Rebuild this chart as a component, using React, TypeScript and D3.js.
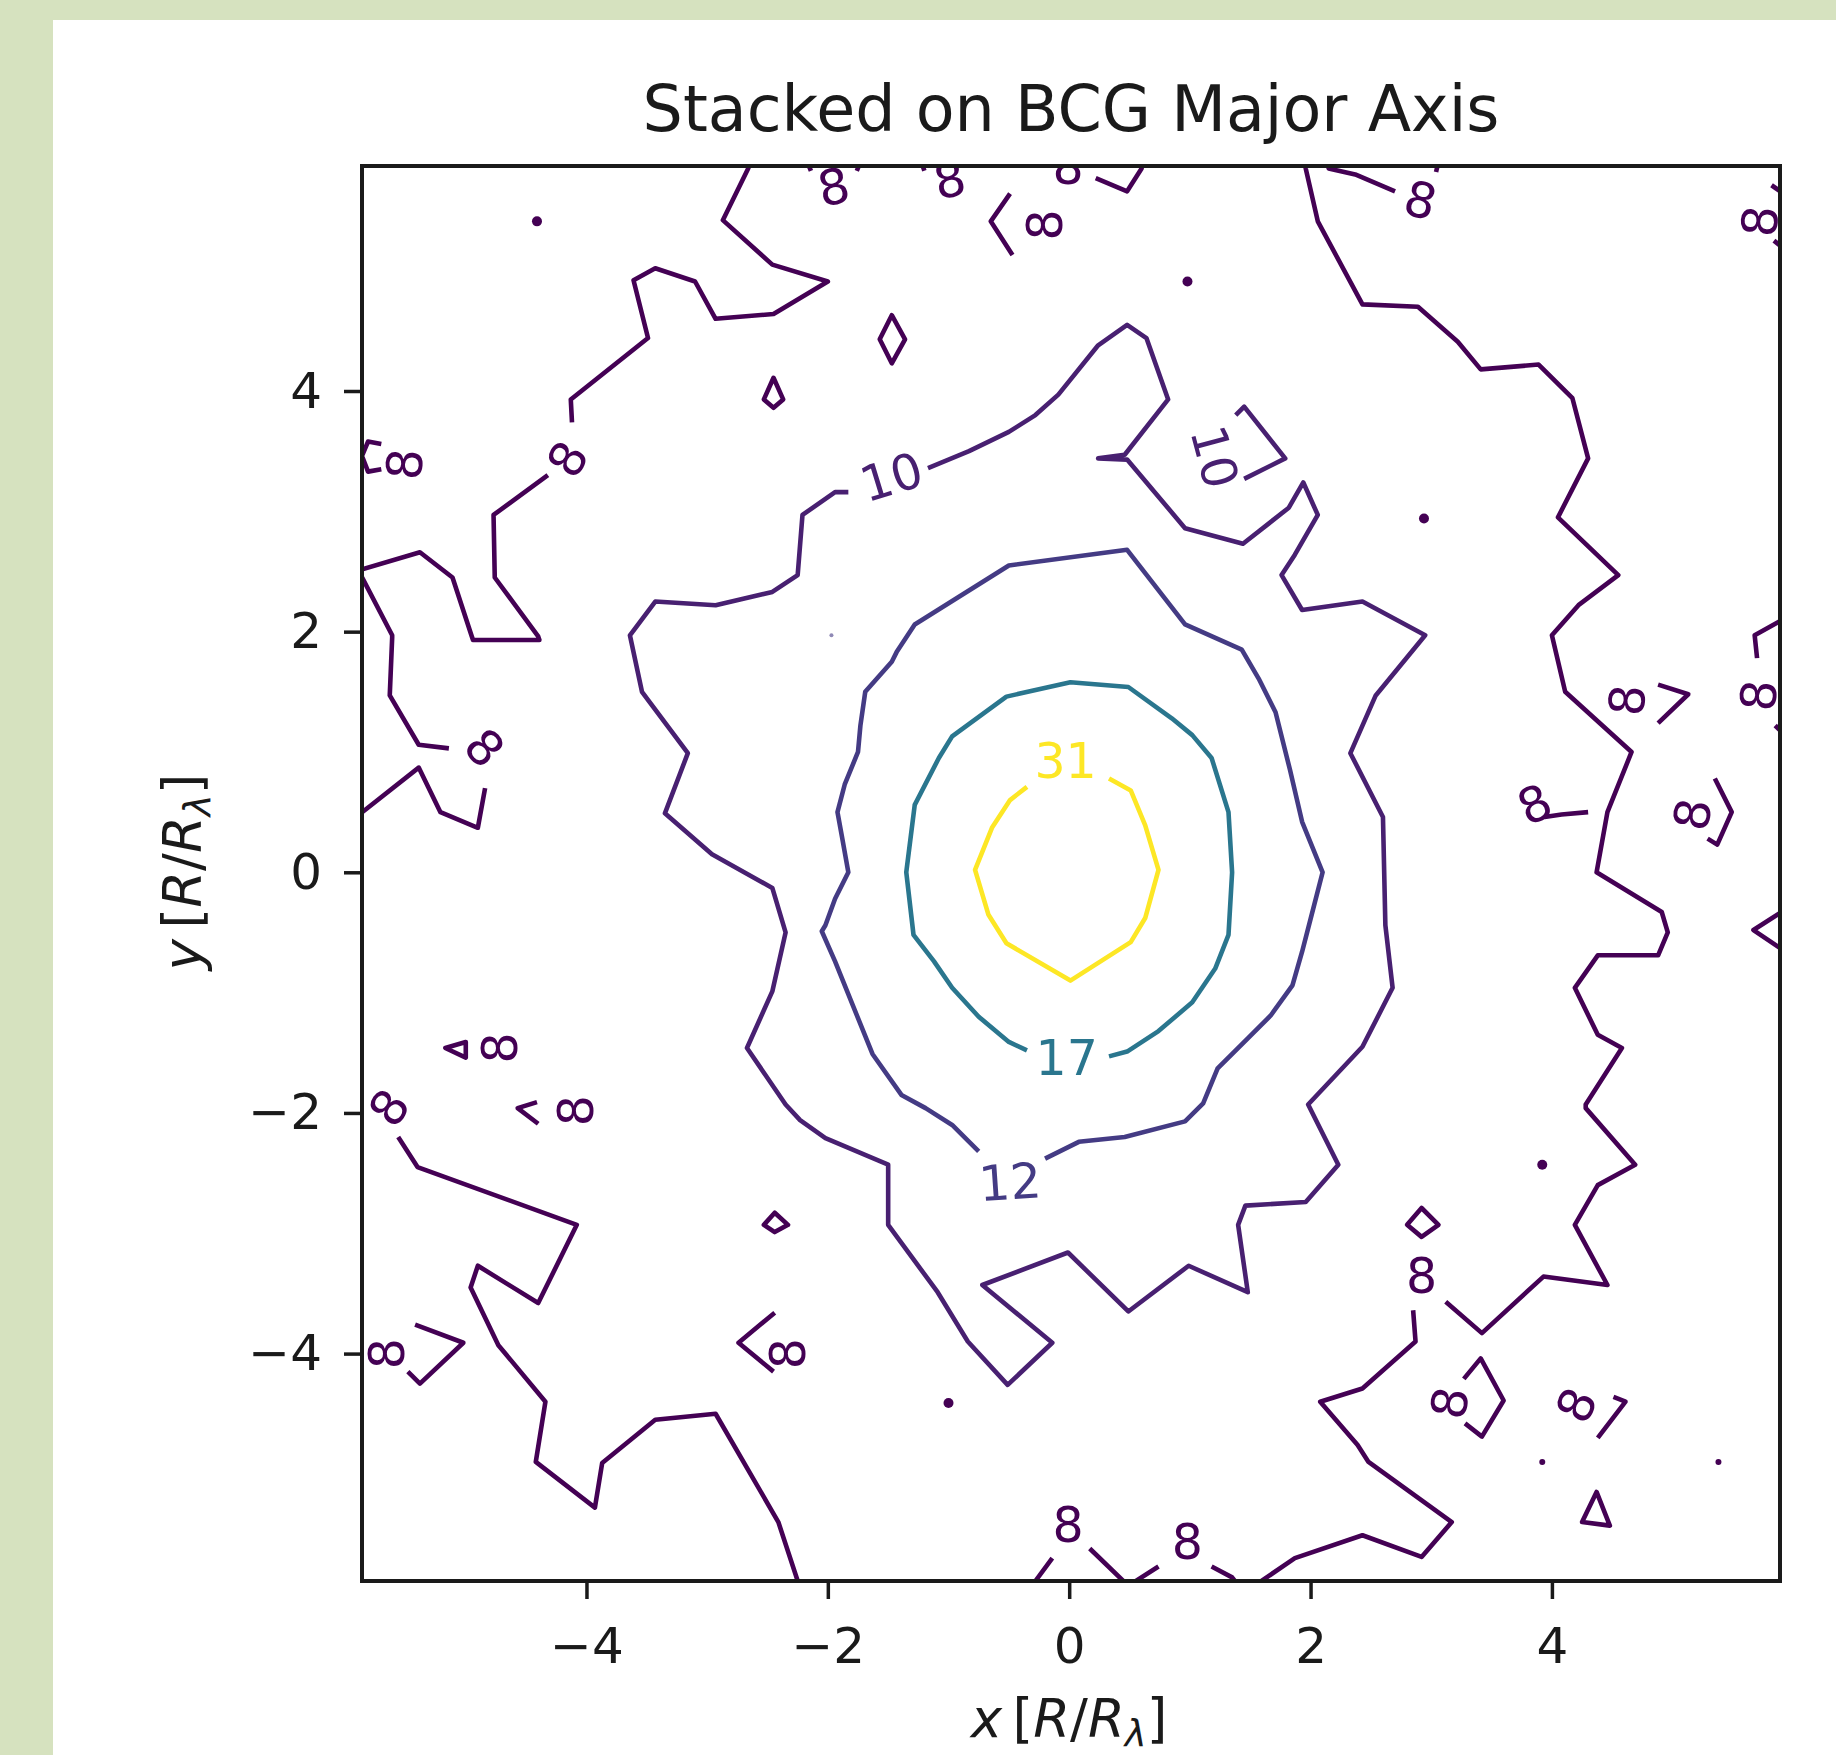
import React, { useEffect, useRef } from 'react';
import * as d3 from 'd3';

type Pt = [number, number];

const chartTitle = 'Stacked on BCG Major Axis';
const xTicks = [-4, -2, 0, 2, 4];
const yTicks = [-4, -2, 0, 2, 4];
const xDomain: Pt = [-5.86, 5.89];
const yDomain: Pt = [-5.89, 5.87];
const levels = [8, 10, 12, 17, 31];

// contour pieces, in data units (x, y in R/R_lambda)
const level31Lines: Pt[][] = [
  [[0.33, 0.78], [0.51, 0.68], [0.63, 0.39], [0.74, 0.02], [0.63, -0.38], [0.51, -0.58], [0.01, -0.9],
   [-0.52, -0.59], [-0.67, -0.35], [-0.78, 0.02], [-0.64, 0.37], [-0.49, 0.6], [-0.35, 0.71]],
];

const level17Lines: Pt[][] = [
  [[0.33, -1.53], [0.48, -1.49], [0.74, -1.32], [1.02, -1.08], [1.21, -0.8], [1.32, -0.52], [1.35, 0.0],
   [1.32, 0.5], [1.18, 0.95], [1.02, 1.14], [0.85, 1.28], [0.49, 1.54], [0.01, 1.58], [-0.52, 1.46],
   [-0.97, 1.13], [-1.08, 0.95], [-1.28, 0.56], [-1.35, 0.0], [-1.29, -0.52], [-1.12, -0.74],
   [-0.97, -0.96], [-0.75, -1.2], [-0.5, -1.41], [-0.35, -1.48]],
];

const level12Lines: Pt[][] = [
  [[-0.2, -2.38], [0.08, -2.24], [0.46, -2.2], [0.96, -2.07], [1.11, -1.92], [1.23, -1.63], [1.48, -1.38],
   [1.67, -1.19], [1.85, -0.94], [1.93, -0.66], [2.01, -0.35], [2.1, 0.0], [1.93, 0.42], [1.83, 0.85],
   [1.71, 1.33], [1.57, 1.61], [1.43, 1.85], [0.96, 2.06], [0.48, 2.68], [-0.5, 2.55], [-1.28, 2.06],
   [-1.43, 1.83], [-1.47, 1.75], [-1.69, 1.5], [-1.73, 1.22], [-1.75, 1.0], [-1.86, 0.73], [-1.92, 0.5],
   [-1.88, 0.28], [-1.83, 0.0], [-1.94, -0.22], [-2.02, -0.44], [-2.05, -0.49], [-1.94, -0.74],
   [-1.63, -1.51], [-1.39, -1.85], [-1.19, -1.96], [-0.97, -2.1], [-0.75, -2.32]],
];
const level12Dots: Pt[] = [[-1.97, 1.97]];

const level10Lines: Pt[][] = [
  [[-1.17, 3.36], [-0.83, 3.5], [-0.5, 3.66], [-0.28, 3.8], [-0.09, 3.97], [0.24, 4.38], [0.48, 4.55],
   [0.64, 4.44], [0.82, 3.93], [0.46, 3.47], [0.24, 3.44], [0.48, 3.43], [0.96, 2.86], [1.44, 2.73],
   [1.82, 3.03], [1.94, 3.24], [2.06, 2.97], [1.87, 2.64], [1.76, 2.47], [1.93, 2.18], [2.43, 2.25],
   [2.95, 1.97], [2.54, 1.47], [2.33, 0.99], [2.6, 0.46], [2.62, -0.44], [2.68, -0.96], [2.43, -1.45],
   [1.98, -1.93], [2.23, -2.43], [1.96, -2.74], [1.46, -2.77], [1.4, -2.93], [1.48, -3.49], [0.99, -3.27],
   [0.49, -3.65], [-0.01, -3.16], [-0.72, -3.43], [-0.14, -3.91], [-0.51, -4.26], [-0.84, -3.9],
   [-1.09, -3.49], [-1.5, -2.93], [-1.5, -2.43], [-2.02, -2.21], [-2.23, -2.06], [-2.35, -1.93],
   [-2.67, -1.46], [-2.46, -0.99], [-2.35, -0.5], [-2.46, -0.13], [-2.96, 0.15], [-3.35, 0.49],
   [-3.16, 0.99], [-3.54, 1.5], [-3.64, 1.97], [-3.43, 2.25], [-2.93, 2.22], [-2.46, 2.33], [-2.25, 2.47],
   [-2.21, 2.97], [-1.94, 3.16], [-1.83, 3.16]],
  [[1.38, 3.8], [1.45, 3.87], [1.79, 3.44], [1.45, 3.27]],
];

const level8Lines: Pt[][] = [
  [[-5.95, 2.49], [-5.38, 2.66], [-5.11, 2.45], [-4.95, 1.96], [-4.94, 1.93], [-4.39, 1.93], [-4.4, 1.96],
   [-4.76, 2.45], [-4.77, 2.97], [-4.32, 3.3]],
  [[-4.12, 3.74], [-4.13, 3.93], [-3.49, 4.44], [-3.61, 4.92], [-3.43, 5.02], [-3.1, 4.91], [-2.93, 4.6],
   [-2.45, 4.64], [-2.0, 4.91], [-2.46, 5.05], [-2.87, 5.42], [-2.66, 5.85], [-2.62, 5.95]],
  [[-5.9, 2.53], [-5.61, 1.97], [-5.61, 1.95], [-5.63, 1.47], [-5.39, 1.06], [-5.14, 1.03]],
  [[-4.84, 0.7], [-4.9, 0.37], [-5.21, 0.5], [-5.39, 0.87], [-5.92, 0.45]],
  [[-5.7, 3.56], [-5.81, 3.58], [-5.86, 3.46], [-5.81, 3.33], [-5.7, 3.35]],
  [[-5.56, -2.2], [-5.4, -2.45], [-4.08, -2.93], [-4.4, -3.58], [-4.9, -3.27], [-4.96, -3.45],
   [-4.73, -3.93], [-4.34, -4.4], [-4.42, -4.9], [-3.93, -5.28], [-3.87, -4.91], [-3.43, -4.55],
   [-2.93, -4.5], [-2.41, -5.4], [-2.22, -5.98]],
  [[1.94, 5.95], [1.96, 5.85], [2.06, 5.41], [2.43, 4.72], [2.89, 4.7], [3.22, 4.41], [3.41, 4.18],
   [3.89, 4.22], [4.17, 3.94], [4.3, 3.44], [4.05, 2.95], [4.55, 2.47], [4.22, 2.22], [4.0, 1.97],
   [4.11, 1.5], [4.66, 1.0], [4.46, 0.5], [4.37, 0.0], [4.91, -0.33], [4.96, -0.5], [4.88, -0.69],
   [4.38, -0.69], [4.19, -0.96], [4.38, -1.35], [4.58, -1.46], [4.28, -1.93], [4.28, -1.96],
   [4.69, -2.43], [4.38, -2.6], [4.19, -2.93], [4.46, -3.43], [3.93, -3.36], [3.42, -3.83], [3.12, -3.57]],
  [[2.85, -3.64], [2.87, -3.9], [2.43, -4.29], [2.08, -4.4], [2.39, -4.76], [2.48, -4.9], [3.17, -5.4],
   [2.92, -5.69], [2.43, -5.51], [1.87, -5.7], [1.49, -5.96]],
  [[2.13, 5.95], [2.15, 5.85], [2.37, 5.8], [2.7, 5.66]],
  [[3.04, 5.82], [3.07, 5.95]],
  [[0.22, 5.77], [0.48, 5.66], [0.6, 5.85], [0.62, 5.95]],
  [[-0.49, 5.64], [-0.65, 5.41], [-0.47, 5.13]],
  [[-2.19, 5.95], [-2.14, 5.83]],
  [[-1.76, 5.83], [-1.71, 5.95]],
  [[-1.24, 5.95], [-1.2, 5.83]],
  [[5.82, 5.71], [5.95, 5.62]],
  [[5.84, 5.25], [5.95, 5.16]],
  [[5.95, 2.12], [5.68, 1.97], [5.7, 1.78]],
  [[5.85, 1.22], [5.95, 1.12]],
  [[3.94, 0.46], [4.08, 0.48], [4.3, 0.5]],
  [[4.88, 1.56], [5.13, 1.48], [4.88, 1.24]],
  [[5.35, 0.78], [5.49, 0.5], [5.37, 0.23], [5.29, 0.28]],
  [[5.95, -0.3], [5.67, -0.48], [5.95, -0.67]],
  [[3.27, -4.21], [3.41, -4.04], [3.6, -4.39], [3.42, -4.69], [3.28, -4.58]],
  [[4.51, -4.36], [4.61, -4.4], [4.38, -4.7]],
  [[-0.3, -5.95], [-0.28, -5.89], [-0.14, -5.7]],
  [[0.17, -5.62], [0.49, -5.93], [0.74, -5.77]],
  [[1.18, -5.77], [1.35, -5.86], [1.42, -5.95]],
  [[-4.41, -1.91], [-4.57, -1.96], [-4.4, -2.09]],
  [[-5.42, -3.76], [-5.02, -3.91], [-5.38, -4.25], [-5.48, -4.15]],
  [[-2.44, -3.66], [-2.74, -3.91], [-2.45, -4.15]],
];

const level8Loops: Pt[][] = [
  [[-2.45, 4.11], [-2.37, 3.93], [-2.45, 3.86], [-2.53, 3.93]],
  [[-1.47, 4.63], [-1.36, 4.43], [-1.47, 4.23], [-1.57, 4.43]],
  [[-2.44, -2.83], [-2.33, -2.93], [-2.44, -2.99], [-2.53, -2.93]],
  [[2.92, -2.79], [3.06, -2.93], [2.92, -3.03], [2.8, -2.93]],
  [[4.37, -5.15], [4.48, -5.43], [4.25, -5.4]],
  [[-5.0, -1.41], [-5.17, -1.46], [-5.0, -1.54]],
];

const level8Dots: Pt[] = [[-4.41, 5.41], [0.98, 4.91], [2.94, 2.94], [3.92, -2.43], [-1.0, -4.41]];
const level8Specks: Pt[] = [[3.92, -4.9], [5.38, -4.9]];

// inline labels: level, x, y, angle (deg)
const contourLabels: [number, number, number, number][] = [
  [31, -0.03, 0.92, 0],
  [17, -0.02, -1.55, 0],
  [12, -0.49, -2.58, -4],
  [10, -1.47, 3.28, -17],
  [10, 1.2, 3.45, 75],
  [8, -5.5, 3.39, -85],
  [8, -4.15, 3.43, -60],
  [8, -4.85, 1.03, 47],
  [8, -1.95, 5.69, -12],
  [8, -0.99, 5.75, -12],
  [8, -0.01, 5.86, 0],
  [8, -0.2, 5.38, -90],
  [8, 2.91, 5.58, 15],
  [8, 5.73, 5.41, -85],
  [8, 4.63, 1.43, -85],
  [8, 5.72, 1.47, -85],
  [8, 3.86, 0.56, -25],
  [8, 5.17, 0.48, -80],
  [8, 2.92, -3.36, 0],
  [8, 3.16, -4.41, -80],
  [8, 4.21, -4.43, -65],
  [8, -0.01, -5.43, 0],
  [8, 0.98, -5.57, 0],
  [8, -5.63, -1.96, -55],
  [8, -4.08, -1.98, -90],
  [8, -5.65, -4.0, -90],
  [8, -2.33, -4.0, -90],
  [8, -4.71, -1.46, -90],
];

const FONT = 'DejaVu Sans';

export default function App() {
  const ref = useRef<SVGSVGElement | null>(null);

  useEffect(() => {
    if (!ref.current) return;
    const W = 1836;
    const H = 1755;
    const box = { left: 362, right: 1780, top: 166, bottom: 1581 };
    const svg = d3.select(ref.current);
    svg.selectAll('*').remove();

    const x = d3.scaleLinear().domain(xDomain).range([box.left, box.right]);
    const y = d3.scaleLinear().domain(yDomain).range([box.bottom, box.top]);
    const lo = levels[0];
    const hi = levels[levels.length - 1];
    const color = (lv: number) => d3.interpolateViridis((lv - lo) / (hi - lo));

    // page background with the green frame
    svg.append('rect').attr('width', W).attr('height', H).attr('fill', '#d6e2bf');
    svg.append('rect').attr('x', 53).attr('y', 20).attr('width', W - 53).attr('height', H - 20).attr('fill', '#fff');

    svg.append('defs').append('clipPath').attr('id', 'plotClip')
      .append('rect')
      .attr('x', box.left).attr('y', box.top)
      .attr('width', box.right - box.left).attr('height', box.bottom - box.top);

    const line = d3.line<Pt>().x(d => x(d[0])).y(d => y(d[1]));
    const loop = d3.line<Pt>().x(d => x(d[0])).y(d => y(d[1])).curve(d3.curveLinearClosed);

    const plot = svg.append('g').attr('clip-path', 'url(#plotClip)');

    const drawLines = (lv: number, pieces: Pt[][], gen: d3.Line<Pt>) => {
      plot.append('g').selectAll('path').data(pieces).join('path')
        .attr('d', d => gen(d))
        .attr('fill', 'none')
        .attr('stroke', color(lv))
        .attr('stroke-width', 4.6)
        .attr('stroke-linejoin', 'round');
    };
    drawLines(8, level8Lines, line);
    drawLines(8, level8Loops, loop);
    drawLines(10, level10Lines, line);
    drawLines(12, level12Lines, line);
    drawLines(17, level17Lines, line);
    drawLines(31, level31Lines, line);

    plot.append('g').selectAll('circle').data(level8Dots).join('circle')
      .attr('cx', d => x(d[0])).attr('cy', d => y(d[1])).attr('r', 5)
      .attr('fill', color(8));
    plot.append('g').selectAll('circle').data(level8Specks).join('circle')
      .attr('cx', d => x(d[0])).attr('cy', d => y(d[1])).attr('r', 3)
      .attr('fill', color(8));
    plot.append('g').selectAll('circle').data(level12Dots).join('circle')
      .attr('cx', d => x(d[0])).attr('cy', d => y(d[1])).attr('r', 2)
      .attr('fill', color(12)).attr('opacity', 0.6);

    plot.append('g').selectAll('text').data(contourLabels).join('text')
      .attr('transform', d => `translate(${x(d[1])},${y(d[2])}) rotate(${d[3]})`)
      .attr('text-anchor', 'middle')
      .attr('dominant-baseline', 'central')
      .attr('font-family', FONT)
      .attr('font-size', 49)
      .attr('fill', d => color(d[0]))
      .text(d => String(d[0]));

    // frame
    svg.append('rect')
      .attr('x', box.left).attr('y', box.top)
      .attr('width', box.right - box.left).attr('height', box.bottom - box.top)
      .attr('fill', 'none').attr('stroke', '#1a1a1a').attr('stroke-width', 4);

    const fmt = (d: d3.NumberValue) => {
      const v = Number(d);
      return v < 0 ? '\u2212' + Math.abs(v) : String(v);
    };

    const gx = svg.append('g').attr('transform', `translate(0,${box.bottom})`)
      .call(d3.axisBottom(x).tickValues(xTicks).tickSize(18).tickPadding(28).tickFormat(fmt));
    gx.select('.domain').remove();
    gx.selectAll('line').attr('stroke', '#1a1a1a').attr('stroke-width', 3.5);
    gx.selectAll('text').attr('font-size', 50).attr('font-family', FONT).attr('fill', '#1a1a1a');

    const gy = svg.append('g').attr('transform', `translate(${box.left},0)`)
      .call(d3.axisLeft(y).tickValues(yTicks).tickSize(18).tickPadding(22).tickFormat(fmt));
    gy.select('.domain').remove();
    gy.selectAll('line').attr('stroke', '#1a1a1a').attr('stroke-width', 3.5);
    gy.selectAll('text').attr('font-size', 50).attr('font-family', FONT).attr('fill', '#1a1a1a');

    svg.append('text')
      .attr('x', (box.left + box.right) / 2).attr('y', 131)
      .attr('text-anchor', 'middle')
      .attr('font-family', FONT).attr('font-size', 63.5).attr('fill', '#1a1a1a')
      .text(chartTitle);

    const axisLabel = (g: d3.Selection<SVGTextElement, unknown, null, undefined>, v: string) => {
      g.append('tspan').attr('font-style', 'italic').text(v);
      g.append('tspan').text('\u2009[');
      g.append('tspan').attr('font-style', 'italic').text('R');
      g.append('tspan').text('/');
      g.append('tspan').attr('font-style', 'italic').text('R');
      g.append('tspan').attr('font-style', 'italic').attr('font-size', 37).attr('dy', 9).text('\u03bb');
      g.append('tspan').attr('dy', -9).text(']');
    };

    const xl = svg.append('text')
      .attr('x', 1069).attr('y', 1737)
      .attr('text-anchor', 'middle')
      .attr('font-family', FONT).attr('font-size', 53).attr('fill', '#1a1a1a');
    axisLabel(xl as any, 'x');

    const yl = svg.append('text')
      .attr('transform', 'translate(201,872) rotate(-90)')
      .attr('text-anchor', 'middle')
      .attr('font-family', FONT).attr('font-size', 53).attr('fill', '#1a1a1a');
    axisLabel(yl as any, 'y');
  }, []);

  return (
    <div style={{ position: 'absolute', left: 0, top: 0 }}>
      <svg ref={ref} width={1836} height={1755} />
    </div>
  );
}
